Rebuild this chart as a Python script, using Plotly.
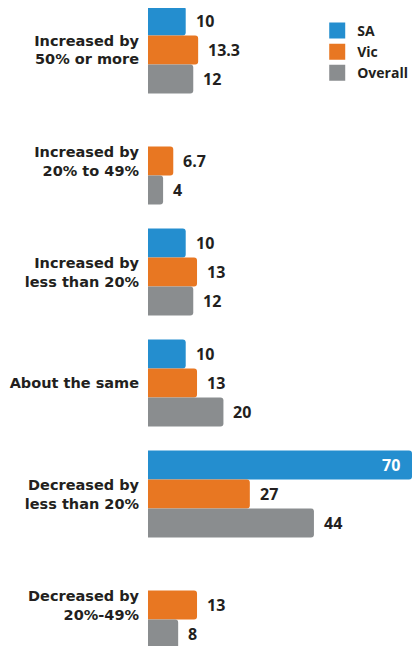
import plotly.graph_objects as go

categories = ["Increased by<br>50% or more", "Increased by<br>20% to 49%",
              "Increased by<br>less than 20%", "About the same",
              "Decreased by<br>less than 20%", "Decreased by<br>20%-49%"]
series_names = ["SA", "Vic", "Overall"]
sa = [10, None, 10, 10, 70, None]
vic = [13.3, 6.7, 13, 13, 27, 13]
overall = [12, 4, 12, 20, 44, 8]
colors = ["#248ecf", "#e87722", "#8a8d8f"]

FONT = "DejaVu Sans"
NUMFONT = "Open Sans"
TXT = "#231f20"
idx = list(range(len(categories)))
bargap = 0.216
bw = (1 - bargap) / 3

fig = go.Figure()
annotations = []
for k, (name, vals, col) in enumerate(zip(series_names, [sa, vic, overall], colors)):
    fig.add_trace(go.Bar(y=idx, x=vals, orientation="h", name=name,
                         marker=dict(color=col, cornerradius=3, line=dict(width=0)),
                         showlegend=False, hoverinfo="skip"))
    fig.add_trace(go.Scatter(x=[None], y=[None], mode="markers", name=name,
                             marker=dict(symbol="square", size=17, color=col)))
    off = (k - 1) * bw
    for i, v in zip(idx, vals):
        if v is None:
            continue
        inside = v >= 60
        annotations.append(dict(
            x=v, y=i + off, xref="x", yref="y", text=f"<b>{v:g}</b>",
            showarrow=False, xanchor="right" if inside else "left",
            xshift=-10 if inside else 8, yanchor="middle",
            font=dict(family=NUMFONT, size=16, color="white" if inside else TXT)))

fig.update_layout(
    width=404, height=638, barmode="group", bargap=bargap,
    margin=dict(l=140, r=0, t=0, b=0, autoexpand=False),
    plot_bgcolor="white", paper_bgcolor="white",
    font=dict(family=FONT, color=TXT),
    xaxis=dict(range=[0, 70], visible=False, showgrid=False, zeroline=False),
    yaxis=dict(range=[5.369, -0.3784], tickmode="array", tickvals=idx,
               ticktext=[f"<b>{c}</b>" for c in categories],
               tickfont=dict(family=FONT, size=14.5, color=TXT),
               showgrid=False, zeroline=False, showline=False, ticks="",
               ticklabelstandoff=8, automargin=False),
    legend=dict(x=0.641, y=0.9893, xanchor="left", yanchor="top",
                font=dict(family=NUMFONT, size=14, color=TXT, weight="bold"),
                bgcolor="rgba(0,0,0,0)", tracegroupgap=0, itemsizing="trace"),
    annotations=annotations,
)

fig.write_html("out.html")
